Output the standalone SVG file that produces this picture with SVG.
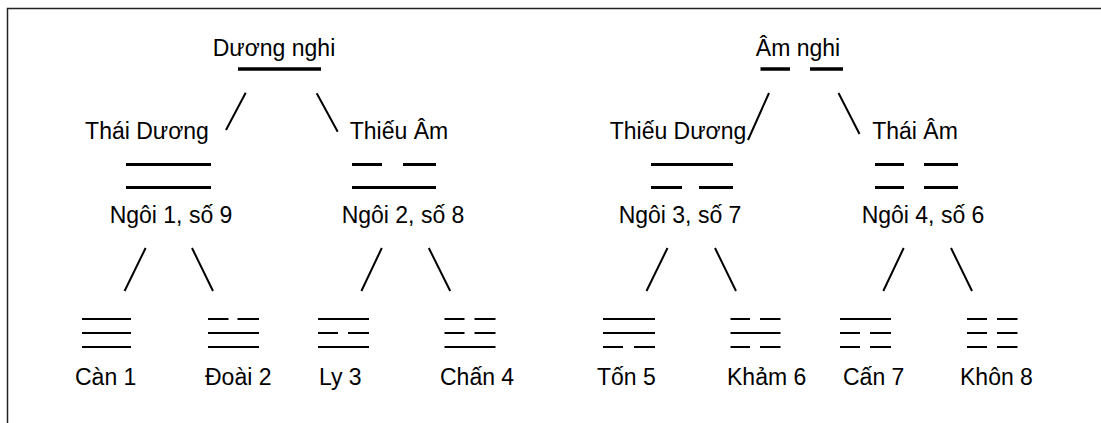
<svg xmlns="http://www.w3.org/2000/svg" width="1101" height="423" viewBox="0 0 1101 423">
<style>
text{font-family:"Liberation Sans",Arial,sans-serif;font-size:23px;fill:#000}
.m{text-anchor:middle}
.l1{stroke:#000;stroke-width:3.5;fill:none}
.l2{stroke:#000;stroke-width:3;fill:none}
.l3{stroke:#000;stroke-width:2;fill:none}
.c{stroke:#000;stroke-width:2;fill:none}
</style>
<rect width="1101" height="423" fill="#fff"/>
<path d="M7.5,423V8.5H1101" stroke="#222" stroke-width="1.5" fill="none"/>

<g id="duong-nghi">
<text class="m" x="274" y="56">Dương nghi</text>
<path class="l1" d="M238,69H321"/>
</g>
<g id="am-nghi">
<text class="m" x="798" y="56">Âm nghi</text>
<path class="l1" d="M760.5,69H790M810,69H843"/>
</g>

<g id="thai-duong">
<text class="m" x="147" y="139">Thái Dương</text>
<path class="l2" d="M126,164.5H211M126,187.5H211"/>
<text class="m" x="171" y="223">Ngôi 1, số 9</text>
</g>
<g id="thieu-am">
<text class="m" x="399" y="139">Thiếu Âm</text>
<path class="l2" d="M352,164.5H382M403,164.5H436M352,187.5H436"/>
<text class="m" x="403" y="223">Ngôi 2, số 8</text>
</g>
<g id="thieu-duong">
<text class="m" x="678" y="139">Thiếu Dương</text>
<path class="l2" d="M651,164.5H733M651,187.5H682M699,187.5H733"/>
<text class="m" x="680" y="223">Ngôi 3, số 7</text>
</g>
<g id="thai-am">
<text class="m" x="915" y="139">Thái Âm</text>
<path class="l2" d="M875,164.5H904M924,164.5H958M875,187.5H904M924,187.5H958"/>
<text class="m" x="923" y="223">Ngôi 4, số 6</text>
</g>

<g id="can">
<path class="l3" d="M82,319H131M82,333H131M82,347H131"/>
<text x="75" y="385">Càn 1</text>
</g>
<g id="doai">
<path class="l3" d="M208,319H228.5M237.5,319H259M208,333H259M208,347H259"/>
<text x="205" y="385">Đoài 2</text>
</g>
<g id="ly">
<path class="l3" d="M318,319H369M318,333H338M348,333H369M318,347H369"/>
<text x="319" y="385">Ly 3</text>
</g>
<g id="chan">
<path class="l3" d="M444.5,319H464.5M474.5,319H495.5M444.5,333H464.5M474.5,333H495.5M444.5,347H495.5"/>
<text x="440" y="385">Chấn 4</text>
</g>
<g id="ton">
<path class="l3" d="M603,319H655M603,333H655M603,347H623M634,347H655"/>
<text x="597" y="385">Tốn 5</text>
</g>
<g id="kham">
<path class="l3" d="M730.5,319H750M760,319H780.5M730.5,333H780.5M730.5,347H750M760,347H780.5"/>
<text x="727" y="385">Khảm 6</text>
</g>
<g id="cang">
<path class="l3" d="M840,319H891M840,333H860M870,333H891M840,347H860M870,347H891"/>
<text x="843" y="385">Cấn 7</text>
</g>
<g id="khon">
<path class="l3" d="M967,319H987M997,319H1017.5M967,333H987M997,333H1017.5M967,347H987M997,347H1017.5"/>
<text x="960" y="385">Khôn 8</text>
</g>

<g id="connectors">
<path class="c" d="M245.7,92.7L226,130M316.7,93.3L337.7,131.7"/>
<path class="c" d="M769,93L748,140M838.5,93L859.5,134"/>
<path class="c" d="M145.6,248L124.6,291M192,248L213,291M381.8,248L361.4,291M428.8,248L450.2,291"/>
<path class="c" d="M667.5,248L646.5,291M715,248L736,291M903.7,248L883.3,291M951,248L972,291"/>
</g>
</svg>
